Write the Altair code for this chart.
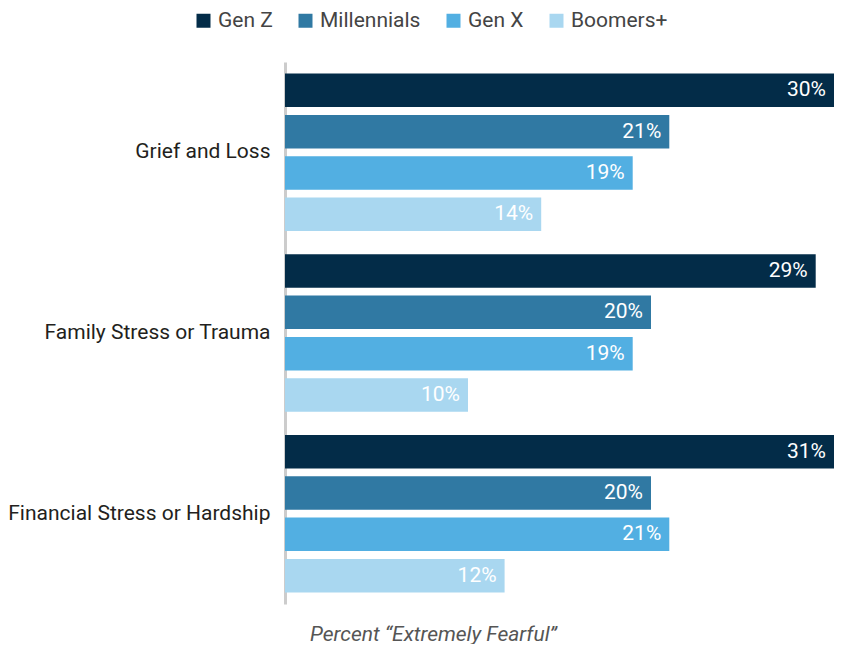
import altair as alt
import pandas as pd

categories = ["Grief and Loss", "Family Stress or Trauma", "Financial Stress or Hardship"]
series = ["Gen Z", "Millennials", "Gen X", "Boomers+"]
gen_z = [30, 29, 31]
millennials = [21, 20, 20]
gen_x = [19, 19, 21]
boomers = [14, 10, 12]
colors = ["#032c48", "#3079a3", "#52afe2", "#a9d7f0"]

rows = []
for s, vals in zip(series, [gen_z, millennials, gen_x, boomers]):
    for c, v in zip(categories, vals):
        rows.append({"category": c, "series": s, "value": v, "label": f"{v}%"})
df = pd.DataFrame(rows)

FONT = "Roboto, sans-serif"

base = alt.Chart(df).encode(
    y=alt.Y("category:N", sort=categories,
            scale=alt.Scale(paddingInner=0, paddingOuter=0),
            axis=alt.Axis(title=None, ticks=False, grid=False, domainColor="#cccccc",
                          domainWidth=3, labelFontSize=21, labelColor="#231f20",
                          labelPadding=15, labelFont=FONT, labelLimit=400)),
    yOffset=alt.YOffset("series:N", sort=series,
                        scale=alt.Scale(paddingInner=0.19, paddingOuter=0.28)),
    x=alt.X("value:Q", scale=alt.Scale(domain=[0, 30], clamp=True, nice=False),
            axis=alt.Axis(title="Percent \u201cExtremely Fearful\u201d", labels=False, ticks=False,
                          domain=False, grid=False, titleFont=FONT, titleFontSize=21,
                          titleFontStyle="italic", titleFontWeight="normal",
                          titleColor="#555555", titleX=148, titleY=36,
                          titleAlign="center", titleBaseline="alphabetic")),
)

bars = base.mark_bar(clip=True).encode(
    color=alt.Color("series:N", sort=series,
                    scale=alt.Scale(domain=series, range=colors),
                    legend=alt.Legend(title=None, orient="none", legendX=-92, legendY=-52,
                                      direction="horizontal", symbolType="square",
                                      symbolSize=196, symbolStrokeWidth=0,
                                      labelFontSize=21, labelFont=FONT, labelColor="#444444",
                                      labelOffset=4, columnPadding=22))
)

labels = base.mark_text(align="right", baseline="middle", dx=-8, color="white",
                        fontSize=21, font=FONT).encode(text="label:N")

chart = (bars + labels).properties(
    width=549, height=542,
    autosize=alt.AutoSizeParams(type="none"),
    padding={"left": 277, "top": 54, "right": 0, "bottom": 40},
).configure_view(stroke=None)

chart.save("out.html", embed_options={"renderer": "svg", "actions": False})
